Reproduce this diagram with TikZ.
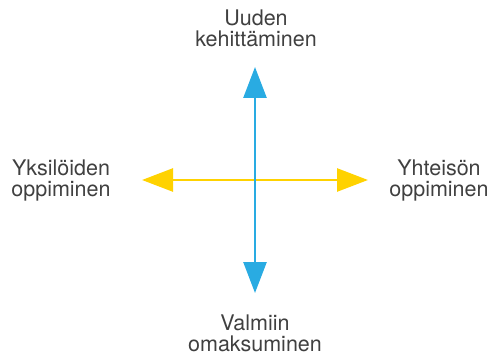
\documentclass[tikz,border=0pt]{standalone}
\usepackage{fontspec}
\setmainfont{TeX Gyre Heros}
\usepackage{tikz}
\usetikzlibrary{arrows.meta}
\definecolor{axisblue}{HTML}{29ABE2}
\definecolor{axisyellow}{HTML}{FFD200}
\definecolor{labelgray}{HTML}{404040}

\begin{document}
\begin{tikzpicture}[x=1pt,y=1pt,
  font=\fontsize{21.5}{21.5}\selectfont,
  lbl/.style={align=center,inner sep=0pt,anchor=base,text=labelgray},
  axis/.style={line width=2.6pt,{Triangle[length=31pt,width=23pt]}-{Triangle[length=31pt,width=23pt]}}]
\useasboundingbox (0,0) rectangle (494,356);
% end points of the two axes
\coordinate (n) at (255,289);
\coordinate (s) at (255,63);
\coordinate (w) at (142,176);
\coordinate (e) at (368,176);
\draw[axis,axisyellow] (w) -- (e);
\draw[axis,axisblue] (s) -- (n);
% texts at the four ends
\node[lbl] (uusi) at (256,309) {Uuden\\kehittäminen};
\node[lbl] (yksilo) at (61,159) {Yksilöiden\\oppiminen};
\node[lbl] (yhteiso) at (439,159) {Yhteisön\\oppiminen};
\node[lbl] (valmis) at (255,4.5) {Valmiin\\omaksuminen};
\end{tikzpicture}
\end{document}
